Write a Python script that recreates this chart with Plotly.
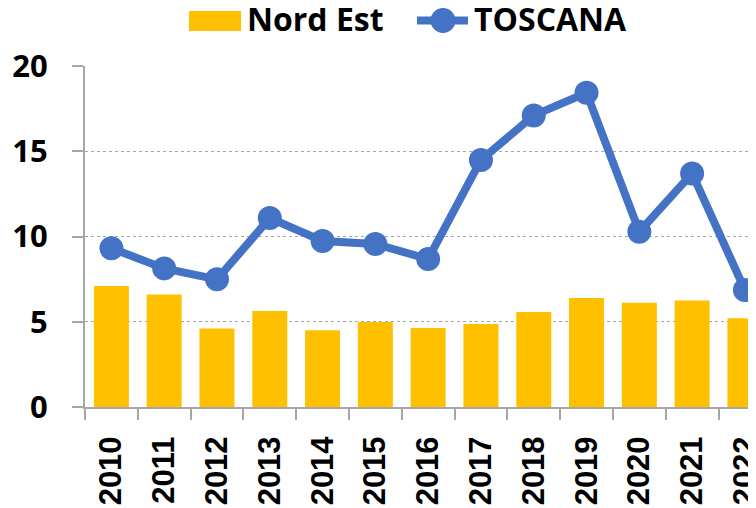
import plotly.graph_objects as go

years = ["2010", "2011", "2012", "2013", "2014", "2015", "2016",
         "2017", "2018", "2019", "2020", "2021", "2022"]
nord_est = [7.1, 6.6, 4.6, 5.63, 4.5, 4.98, 4.63, 4.87, 5.57, 6.39, 6.12, 6.24, 5.2]
toscana = [9.31, 8.13, 7.49, 11.08, 9.74, 9.56, 8.68, 14.49, 17.1, 18.43, 10.28, 13.7, 6.86]
y_ticks = [0, 5, 10, 15, 20]

BAR_COLOR = "#FFC000"
LINE_COLOR = "#4472C4"
AXIS_COLOR = "#A6A6A6"

fig = go.Figure()
fig.add_trace(go.Bar(x=years, y=nord_est, name="Nord Est",
                     marker=dict(color=BAR_COLOR, line=dict(width=0)),
                     showlegend=False))
fig.add_trace(go.Scatter(x=years, y=toscana, name="TOSCANA", mode="lines+markers",
                         line=dict(color=LINE_COLOR, width=8),
                         marker=dict(color=LINE_COLOR, size=24),
                         showlegend=False))

# page body has an 8px margin; figure placed at (8, 8) in the window
OX, OY = 8, 8
W, H = 748, 500
# plot area in window pixels: x 85..756, y 66..407
L, R, T = 85 - OX, 0, 66 - OY
B = H - (407 - OY)
pw, ph = W - L - R, H - T - B

def px_x(p):
    return (p - OX - L) / pw

def px_y(p):
    return (H - B - (p - OY)) / ph

legend_font = dict(family="Open Sans", size=32, color="black", weight="bold")
shapes = [
    dict(type="rect", xref="paper", yref="paper",
         x0=px_x(189), x1=px_x(241), y0=px_y(31), y1=px_y(11),
         fillcolor=BAR_COLOR, line=dict(width=0)),
    dict(type="line", xref="paper", yref="paper",
         x0=px_x(417), x1=px_x(468), y0=px_y(20.5), y1=px_y(20.5),
         line=dict(color=LINE_COLOR, width=8)),
    dict(type="circle", xref="paper", yref="paper",
         x0=px_x(430.5), x1=px_x(455.5), y0=px_y(33), y1=px_y(8),
         fillcolor=LINE_COLOR, line=dict(width=0)),
]
annotations = [
    dict(text="Nord Est", xref="paper", yref="paper", x=px_x(245), y=px_y(19),
         xanchor="left", yanchor="middle", showarrow=False, font=legend_font),
    dict(text="TOSCANA", xref="paper", yref="paper", x=px_x(472), y=px_y(19),
         xanchor="left", yanchor="middle", showarrow=False, font=legend_font),
]

fig.update_layout(
    width=W, height=H,
    margin=dict(l=L, r=R, t=T, b=B, pad=0, autoexpand=False),
    paper_bgcolor="white", plot_bgcolor="white",
    bargap=0.337,
    shapes=shapes,
    annotations=annotations,
    showlegend=False,
    xaxis=dict(
        type="category",
        range=[-0.5, 12.21],
        showline=True, linecolor=AXIS_COLOR, linewidth=2,
        ticks="outside", tickson="boundaries", ticklen=11,
        tickcolor=AXIS_COLOR, tickwidth=2,
        tickangle=-90,
        tickfont=dict(family="Liberation Sans", size=31, color="black", weight="bold"),
        showgrid=False,
        ticklabelstandoff=15,
        automargin=False,
    ),
    yaxis=dict(
        range=[0, 20],
        tickvals=y_ticks,
        showline=True, linecolor=AXIS_COLOR, linewidth=2,
        ticks="outside", ticklen=11, tickcolor=AXIS_COLOR, tickwidth=2,
        tickfont=dict(family="Open Sans", size=31, color="black", weight="bold"),
        showgrid=True, gridcolor=AXIS_COLOR, gridwidth=1, griddash="dot",
        zeroline=False,
        ticklabelstandoff=18,
        automargin=False,
    ),
)

fig.write_html("out.html")
